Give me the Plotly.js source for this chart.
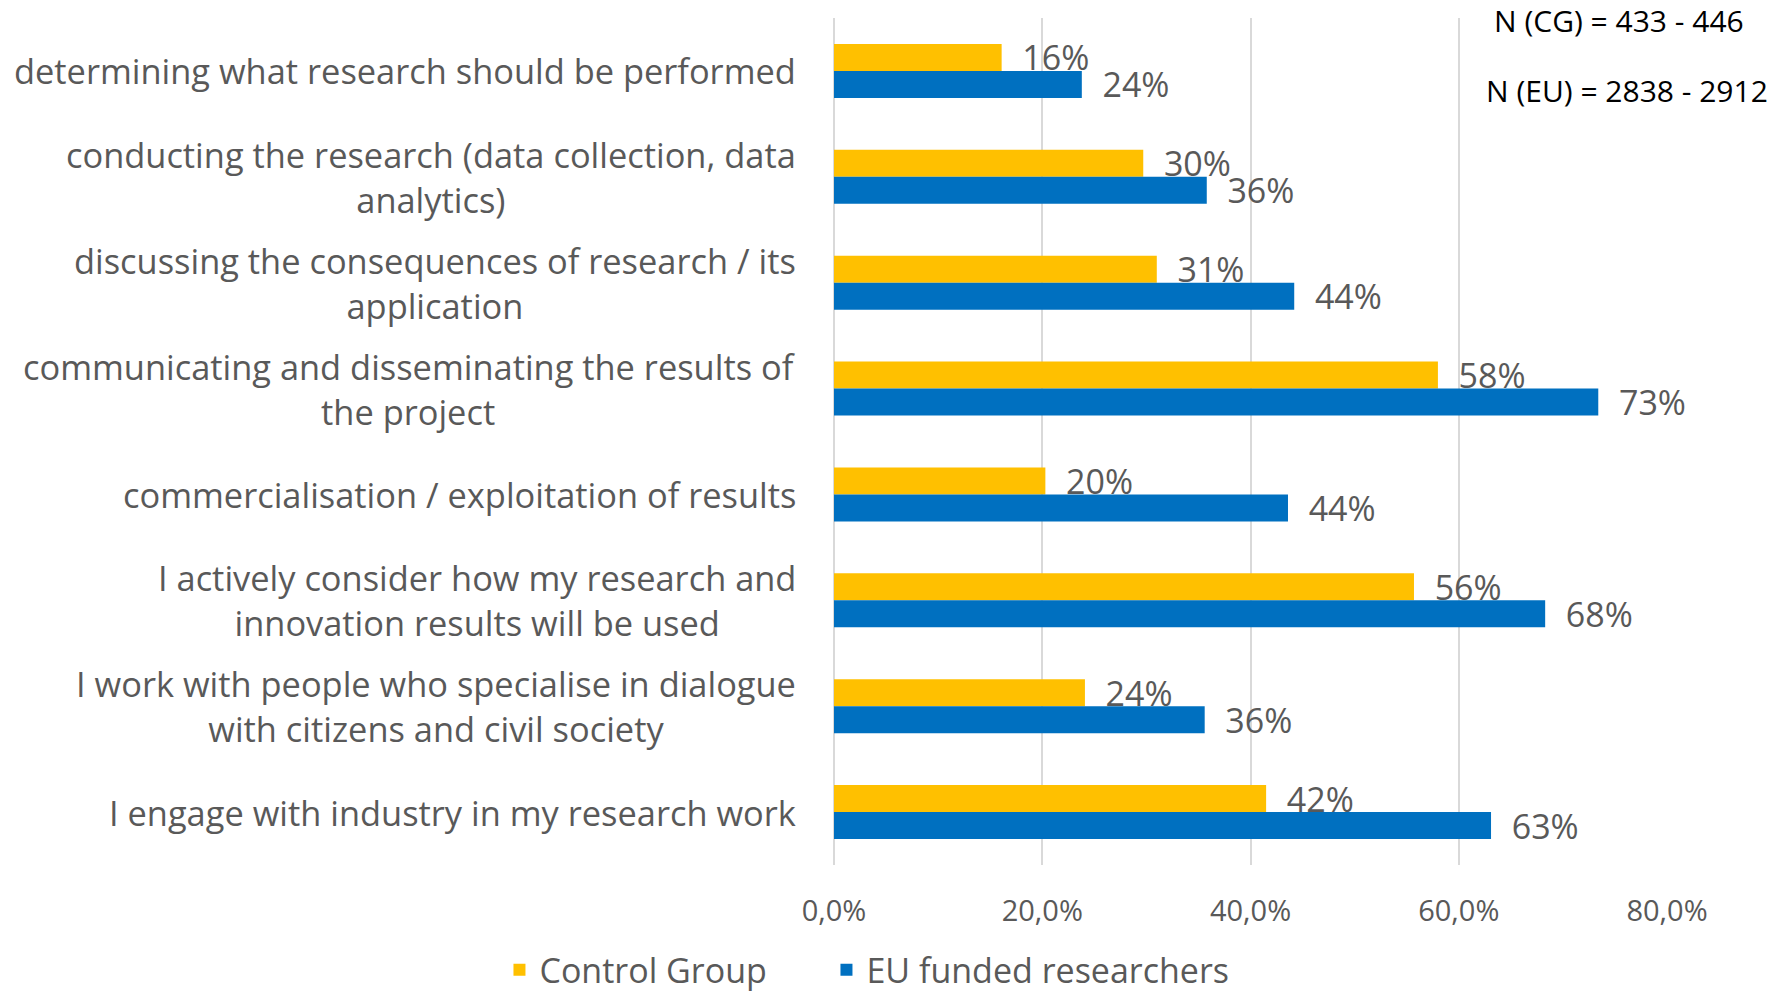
<!DOCTYPE html>
<html>
<head>
<meta charset="utf-8">
<script src="https://cdn.plot.ly/plotly-3.0.1.min.js"></script>
<style>
  body { margin: 0; background: #fff; }
  #chart { width: 1785px; height: 995px; }
</style>
</head>
<body>
<div id="chart"></div>
<script>
// categories, top to bottom
var categories = [
  'determining what research should be performed',
  'conducting the research (data collection, data<br>analytics)',
  'discussing the consequences of research / its<br>application',
  'communicating and disseminating the results of<br>the project',
  'commercialisation / exploitation of results',
  'I actively consider how my research and<br>innovation results will be used',
  'I work with people who specialise in dialogue<br>with citizens and civil society',
  'I engage with industry in my research work'
];

var controlGroup = [0.161, 0.297, 0.310, 0.580, 0.203, 0.557, 0.241, 0.415];
var euFunded     = [0.238, 0.358, 0.442, 0.734, 0.436, 0.683, 0.356, 0.631];

var sampleNotes = ['N (CG) = 433 - 446', 'N (EU) = 2838 - 2912'];

var grey = '#595959';

var trace1 = {
  type: 'bar',
  orientation: 'h',
  name: 'Control Group',
  y: categories,
  x: controlGroup,
  marker: { color: '#FFC000' },
  texttemplate: '\u00a0\u00a0%{x:.0%}',
  textposition: 'outside',
  constraintext: 'none',
  cliponaxis: false,
  textfont: { size: 34, color: grey },
  hoverinfo: 'none'
};

var trace2 = {
  type: 'bar',
  orientation: 'h',
  name: 'EU funded researchers',
  y: categories,
  x: euFunded,
  marker: { color: '#0070C0' },
  texttemplate: '\u00a0\u00a0%{x:.0%}',
  textposition: 'outside',
  constraintext: 'none',
  cliponaxis: false,
  textfont: { size: 34, color: grey },
  legendwidth: 420,
  hoverinfo: 'none'
};

// category labels, centred lines like the original
var labelNotes = categories.map(function (c) {
  return {
    xref: 'paper', yref: 'y',
    x: -0.043, y: c,
    xanchor: 'right', yanchor: 'middle', align: 'center',
    text: c, showarrow: false,
    font: { size: 34.4, color: grey }
  };
});

var nNotes = [
  { xref: 'paper', yref: 'paper', x: 0.942, y: 0.997, text: sampleNotes[0],
    showarrow: false, xanchor: 'center', yanchor: 'middle',
    font: { size: 30, color: '#000' } },
  { xref: 'paper', yref: 'paper', x: 0.952, y: 0.914, text: sampleNotes[1],
    showarrow: false, xanchor: 'center', yanchor: 'middle',
    font: { size: 30, color: '#000' } }
];

var layout = {
  width: 1785,
  height: 995,
  margin: { l: 834, r: 118, t: 18, b: 130 },
  paper_bgcolor: '#fff',
  plot_bgcolor: '#fff',
  font: { family: '"Open Sans", sans-serif', color: grey },
  separators: ', ',
  barmode: 'group',
  bargap: 0.49,
  bargroupgap: 0,
  showlegend: true,
  legend: {
    orientation: 'h',
    xref: 'paper', yref: 'container',
    x: -0.4016, y: 0.025, xanchor: 'left', yanchor: 'middle',
    font: { size: 34, color: grey },
    entrywidth: 282
  },
  xaxis: {
    range: [0, 0.8],
    dtick: 0.2,
    tickformat: '.1%',
    showgrid: true,
    gridcolor: '#d9d9d9',
    gridwidth: 2,
    zeroline: true,
    zerolinecolor: '#d9d9d9',
    zerolinewidth: 2,
    showline: false,
    ticks: '',
    ticklabelstandoff: 26,
    tickfont: { size: 29, color: grey },
    fixedrange: true
  },
  yaxis: {
    type: 'category',
    autorange: 'reversed',
    showticklabels: false,
    showgrid: false,
    zeroline: false,
    showline: false,
    ticks: '',
    fixedrange: true
  },
  shapes: [
    // text box of the N notes hides the grid behind it
    { type: 'rect', xref: 'x', yref: 'paper', x0: 0.52, x1: 0.82, y0: 0.8135, y1: 1.05,
      fillcolor: '#fff', line: { width: 0 }, layer: 'between' }
  ],
  annotations: labelNotes.concat(nNotes)
};

Plotly.newPlot('chart', [trace1, trace2], layout, { displayModeBar: false, staticPlot: true });
</script>
</body>
</html>
